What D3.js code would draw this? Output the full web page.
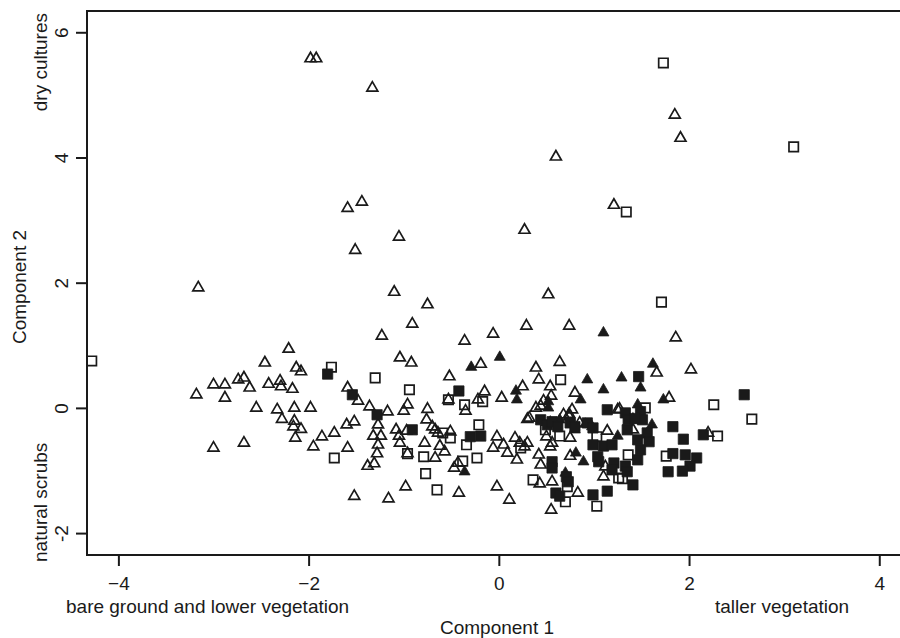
<!DOCTYPE html>
<html>
<head>
<meta charset="utf-8">
<script src="https://cdn.jsdelivr.net/npm/d3@7"></script>
<style>
body { margin: 0; background: #fff; }
text { font-family: "Liberation Sans", Arial, sans-serif; fill: #1a1a1a; }
</style>
</head>
<body>
<svg id="chart" width="900" height="638"></svg>
<script>
// axis ticks
const xTicks = [-4, -2, 0, 2, 4];
const yTicks = [-2, 0, 2, 4, 6];

// [component 1, component 2]
const openTriangles = [
  [-1.98,5.58],[-1.92,5.58],[-1.33,5.11],[1.85,4.68],[1.91,4.31],[0.60,4.01],[-1.59,3.19],[-1.44,3.29],[1.21,3.24],[0.27,2.84],
  [-1.05,2.73],[-1.51,2.52],[-3.16,1.92],[-1.10,1.85],[-0.75,1.65],[0.52,1.81],[1.86,1.12],[-0.91,1.34],[-1.23,1.15],[-0.06,1.18],
  [0.29,1.31],[0.74,1.31],[-0.36,1.07],[-2.21,0.94],[2.02,0.61],[1.66,0.56],
  [-2.46,0.72],[-3.00,0.37],[-2.88,0.37],[-2.74,0.45],[-2.68,0.48],[-2.62,0.32],[-2.42,0.38],[-2.30,0.43],[-2.29,0.34],[-2.17,0.30],
  [-2.13,0.64],[-2.08,0.58],[-3.18,0.21],[-2.88,0.16],[-2.55,0.00],[-2.33,-0.03],[-2.15,0.00],[-1.98,0.00],[-2.28,-0.18],[-2.15,-0.21],
  [-2.16,-0.30],[-2.08,-0.34],[-2.14,-0.48],[-1.86,-0.46],[-3.00,-0.64],[-2.68,-0.56],[-1.95,-0.62],
  [-1.04,0.80],[-0.92,0.72],[-0.52,0.50],[-1.59,0.32],[-1.48,0.11],[-0.53,0.13],[-0.35,-0.05],[-1.36,0.02],[-1.17,-0.06],[-1.00,-0.05],
  [-0.96,0.05],[-0.75,-0.02],[-0.76,-0.19],[-1.60,-0.27],[-1.52,-0.22],[-1.73,-0.40],[-1.27,-0.27],[-1.32,-0.45],[-1.24,-0.45],[-1.27,-0.59],
  [-1.28,-0.73],[-1.38,-0.93],[-1.31,-0.89],[-1.08,-0.35],[-1.05,-0.45],[-0.97,-0.37],[-1.04,-0.56],[-0.78,-0.56],[-0.70,-0.30],[-0.67,-0.35],
  [-0.64,-0.40],[-0.51,-0.38],[-0.62,-0.61],[-0.57,-0.70],[-1.59,-0.64],[-0.96,-0.73],[-0.67,-0.80],[-0.47,-0.96],[-0.43,-0.88],[-0.98,-1.26],
  [-0.42,-1.36],[-1.52,-1.41],[-1.16,-1.45],
  [-0.19,0.70],[0.39,0.64],[0.64,0.73],[0.42,0.45],[0.25,0.34],[0.03,0.16],[-0.15,0.26],[-0.22,0.13],[0.54,0.34],[0.55,0.19],
  [0.80,0.24],[0.47,0.11],[0.39,0.00],[0.44,0.03],[0.77,-0.03],[0.74,-0.10],[1.25,-0.03],[0.32,-0.16],[0.30,-0.18],[0.68,-0.11],
  [0.74,-0.14],[0.50,-0.46],[0.54,-0.24],[0.75,-0.48],[1.14,-0.37],[-0.02,-0.46],[-0.06,-0.64],[0.17,-0.48],[0.22,-0.56],[0.27,-0.62],
  [0.30,-0.56],[0.05,-0.59],[0.09,-0.72],[0.19,-0.83],[0.42,-0.75],[0.44,-0.91],[0.54,-0.62],[0.56,-0.56],[0.75,-0.77],[1.12,-0.94],
  [1.10,-1.10],[0.56,-1.18],[0.43,-1.21],[0.83,-1.36],[-0.02,-1.26],[0.11,-1.47],[0.55,-1.63],[0.85,-0.24],
  [1.79,0.16],[1.27,-0.02],[1.41,-0.19],[1.41,-0.35],[2.20,-0.40]
];
const filledTriangles = [
  [1.10,1.20],[0.01,0.81],[-0.29,0.65],[1.62,0.70],[0.93,0.45],[1.29,0.48],[1.10,0.29],[0.18,0.27],[0.19,0.13],[0.86,0.13],
  [0.52,0.10],[0.52,0.00],[1.49,0.32],[1.73,0.13],[1.46,0.05],[0.64,-0.19],[0.80,-0.35],[0.91,-0.26],[0.98,-0.30],[1.25,-0.45],
  [1.61,-0.27],[0.81,-0.72],[0.89,-0.86],[0.70,-1.04],[-0.36,-1.02]
];
const openSquares = [
  [-4.28,0.75],[1.73,5.51],[3.10,4.17],[1.34,3.13],[1.71,1.69],[-1.76,0.65],[-1.30,0.48],[-0.94,0.29],[-0.53,0.13],[-0.36,0.05],
  [-0.59,-0.40],[-0.51,-0.48],[-0.34,-0.59],[-1.73,-0.80],[-0.96,-0.73],[-0.79,-0.78],[-0.38,-0.85],[-0.77,-1.05],[-0.65,-1.31],[0.65,0.45],
  [-0.17,0.10],[-0.21,-0.27],[0.49,-0.35],[0.64,-0.45],[1.03,-0.46],[0.23,-0.64],[-0.23,-0.80],[1.26,-1.12],[0.36,-1.15],[0.72,-1.26],
  [0.70,-1.50],[1.03,-1.57],[2.26,0.05],[2.66,-0.18],[1.54,0.00],[2.30,-0.45],[1.36,-0.75],[1.76,-0.77],[1.30,-1.13]
];
const filledSquares = [
  [-1.80,0.54],[-1.54,0.21],[-1.28,-0.11],[-0.91,-0.35],[-0.42,0.27],[-0.19,-0.45],[-0.30,-0.46],[0.44,-0.19],[0.51,-0.27],[0.56,-0.22],
  [0.62,-0.30],[0.75,-0.24],[0.80,-0.30],[0.93,-0.24],[0.99,-0.32],[1.14,-0.03],[0.99,-0.59],[1.10,-0.61],[1.19,-0.59],[0.56,-0.86],
  [0.56,-0.96],[1.04,-0.78],[1.05,-0.86],[1.21,-0.88],[0.71,-1.10],[0.73,-1.18],[0.60,-1.36],[0.64,-1.41],[0.99,-1.39],[1.14,-1.33],
  [1.47,0.50],[2.58,0.21],[1.33,-0.08],[1.36,-0.19],[1.49,-0.06],[1.51,-0.19],[1.43,-0.17],[1.35,-0.35],[1.46,-0.51],[1.56,-0.40],
  [1.58,-0.54],[1.49,-0.67],[1.83,-0.30],[1.94,-0.50],[2.15,-0.43],[1.46,-0.83],[1.33,-0.93],[1.35,-1.02],[1.19,-0.99],[1.83,-0.73],
  [1.96,-0.75],[2.08,-0.80],[2.01,-0.93],[1.78,-1.02],[1.93,-1.01],[1.41,-1.23]
];

const ink = "#1a1a1a";
const plotLeft = 87, plotRight = 904, plotTop = 11, plotBottom = 555;

const svg = d3.select("#chart");
svg.append("rect").attr("width", 900).attr("height", 638).attr("fill", "#fff");

const x = d3.scaleLinear().domain([-4.33, 4.26]).range([plotLeft, plotRight]);
const y = d3.scaleLinear().domain([-2.35, 6.34]).range([plotBottom, plotTop]);

// plot frame (right edge falls outside the picture)
svg.append("rect")
    .attr("x", plotLeft).attr("y", plotTop)
    .attr("width", plotRight - plotLeft).attr("height", plotBottom - plotTop)
    .attr("fill", "none").attr("stroke", ink).attr("stroke-width", 2);

// x axis
const xAxis = svg.append("g")
    .attr("transform", `translate(0,${plotBottom})`)
    .call(d3.axisBottom(x).tickValues(xTicks).tickSize(11).tickSizeOuter(0).tickPadding(11));
xAxis.select(".domain").remove();
xAxis.selectAll("line").attr("stroke", ink).attr("stroke-width", 2);
xAxis.selectAll("text")
    .attr("font-size", 19).attr("fill", ink)
    .style("font-family", "'Liberation Sans', Arial, sans-serif");

// y axis, labels turned sideways
const yAxis = svg.append("g")
    .attr("transform", `translate(${plotLeft},0)`)
    .call(d3.axisLeft(y).tickValues(yTicks).tickSize(11).tickSizeOuter(0));
yAxis.select(".domain").remove();
yAxis.selectAll("line").attr("stroke", ink).attr("stroke-width", 2);
yAxis.selectAll("text").remove();
yAxis.selectAll(".tick").append("text")
    .attr("transform", "translate(-19,0) rotate(-90)")
    .attr("text-anchor", "middle")
    .attr("font-size", 19).attr("fill", ink)
    .style("font-family", "'Liberation Sans', Arial, sans-serif")
    .text(d => d);

// axis titles and end notes
function sideText(px, py, anchor, str) {
  svg.append("text")
      .attr("transform", `translate(${px},${py}) rotate(-90)`)
      .attr("text-anchor", anchor)
      .attr("font-size", 19)
      .text(str);
}
sideText(47, 13, "end", "dry cultures");
sideText(47, 562, "start", "natural scrubs");
sideText(26, 287, "middle", "Component 2");

svg.append("text").attr("x", 66).attr("y", 613).attr("font-size", 19)
    .text("bare ground and lower vegetation");
svg.append("text").attr("x", 715).attr("y", 613).attr("font-size", 19)
    .text("taller vegetation");
svg.append("text").attr("x", 497).attr("y", 634).attr("font-size", 19)
    .attr("text-anchor", "middle").text("Component 1");

// markers
const tri = d3.symbol().type(d3.symbolTriangle).size(52);
const sq = d3.symbol().type(d3.symbolSquare).size(88);
const sqFull = d3.symbol().type(d3.symbolSquare).size(105);

function drawSeries(data, path, filled) {
  svg.append("g").selectAll("path")
      .data(data)
      .join("path")
      .attr("d", path)
      .attr("transform", d => `translate(${x(d[0])},${y(d[1])})`)
      .attr("fill", filled ? ink : "none")
      .attr("stroke", ink)
      .attr("stroke-width", filled ? 0.8 : 1.7);
}
drawSeries(openTriangles, tri, false);
drawSeries(openSquares, sq, false);
drawSeries(filledTriangles, tri, true);
drawSeries(filledSquares, sqFull, true);
</script>
</body>
</html>
